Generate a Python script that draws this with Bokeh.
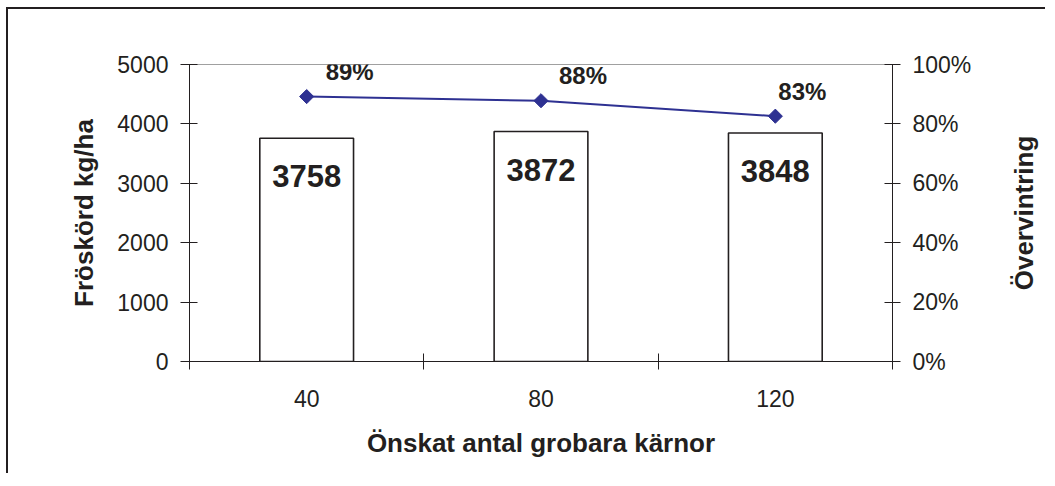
from bokeh.plotting import figure
from bokeh.layouts import row
from bokeh.models import (ColumnDataSource, Range1d, LinearAxis, FixedTicker,
                          NumeralTickFormatter, Title)
from bokeh.core.properties import value
from bokeh.embed import file_html
from bokeh.resources import INLINE

# ---- data ----
categories = ["40", "80", "120"]
yield_kg = [3758, 3872, 3848]
overwinter = [0.892, 0.878, 0.826]
overwinter_labels = ["89%", "88%", "83%"]

# label nudges (screen px), as placed in the original
pct_label_dx = [19, 18, 3]

FONT = "Liberation Sans"
TXT = "#231f20"
NAVY = "#2e3192"

xs = [i + 0.5 for i in range(len(categories))]
src = ColumnDataSource(dict(
    x=xs, y=yield_kg, ylab=[str(v) for v in yield_kg],
    p=overwinter, plab=overwinter_labels, dx=pct_label_dx,
))

p = figure(width=1000, height=466, output_backend="svg", toolbar_location=None,
           x_range=Range1d(0, len(categories)), y_range=Range1d(0, 5000),
           min_border_left=181, min_border_right=116, min_border_top=55,
           min_border_bottom=114)
p.styles = {"border-left": "2px solid #231f20", "border-top": "2px solid #231f20",
            "margin-left": "6px", "margin-top": "7px"}
p.extra_y_ranges = {"pct": Range1d(0, 1)}
p.xgrid.visible = False
p.ygrid.visible = False
p.outline_line_color = "#a0a0a0"
p.outline_line_width = 1
p.background_fill_color = "white"
p.border_fill_color = "white"

# bars
p.vbar(x="x", top="y", width=0.4, bottom=0, source=src, fill_color="white",
       line_color=TXT, line_width=1.6)
p.text(x="x", y="y", text="ylab", source=src, text_align="center",
       text_baseline="top", y_offset=27, text_font=value(FONT),
       text_font_style="bold", text_font_size="31px", text_color=TXT)

# line
p.line(x="x", y="p", source=src, y_range_name="pct", line_color=NAVY, line_width=2)
p.scatter(x="x", y="p", source=src, y_range_name="pct", marker="square", size=10,
          angle=0.7854, fill_color=NAVY, line_color=NAVY)
p.text(x="x", y="p", text="plab", source=src, y_range_name="pct",
       text_align="left", text_baseline="alphabetic", x_offset="dx", y_offset=-25,
       text_font=value(FONT), text_font_style="bold", text_font_size="24px",
       text_color=TXT)

# x axis
xa = p.xaxis[0]
xa.ticker = FixedTicker(ticks=xs, minor_ticks=list(range(len(categories) + 1)))
xa.major_label_overrides = {x: c for x, c in zip(xs, categories)}
xa.major_tick_line_color = None
xa.major_tick_out = 8
xa.major_tick_in = 0
xa.minor_tick_in = 8
xa.minor_tick_out = 8
xa.minor_tick_line_color = TXT
xa.axis_line_color = TXT
xa.major_label_standoff = 20
xa.major_label_text_font = FONT
xa.major_label_text_font_size = "23px"
xa.major_label_text_color = TXT
xa.axis_label = "Önskat antal grobara kärnor"
xa.axis_label_text_font = FONT
xa.axis_label_text_font_style = "bold"
xa.axis_label_text_font_size = "26px"
xa.axis_label_text_color = TXT
xa.axis_label_standoff = 18

# left y axis
ya = p.yaxis[0]
ya.ticker = FixedTicker(ticks=[0, 1000, 2000, 3000, 4000, 5000])
ya.minor_tick_line_color = None
ya.major_tick_in = 8
ya.major_tick_out = 9
ya.major_tick_line_color = TXT
ya.axis_line_color = TXT
ya.major_label_standoff = 12
ya.major_label_text_font = FONT
ya.major_label_text_font_size = "23px"
ya.major_label_text_color = TXT
ya.axis_label = "Fröskörd kg/ha"
ya.axis_label_text_font = FONT
ya.axis_label_text_font_style = "bold"
ya.axis_label_text_font_size = "26px"
ya.axis_label_text_color = TXT
ya.axis_label_standoff = 15

# right y axis
ra = LinearAxis(y_range_name="pct", ticker=FixedTicker(ticks=[0, 0.2, 0.4, 0.6, 0.8, 1.0]),
                formatter=NumeralTickFormatter(format="0%"))
ra.minor_tick_line_color = None
ra.major_tick_in = 8
ra.major_tick_out = 8
ra.major_tick_line_color = TXT
ra.axis_line_color = TXT
ra.major_label_standoff = 12
ra.major_label_text_font = FONT
ra.major_label_text_font_size = "23px"
ra.major_label_text_color = TXT
p.add_layout(ra, "right")

# right-hand title strip: a left-side Title reads bottom-to-top, centred on the frame
p2 = figure(width=39, height=466, output_backend="svg", toolbar_location=None,
            x_axis_type=None, y_axis_type=None, min_border_left=0,
            min_border_right=0, min_border_top=55, min_border_bottom=114)
p2.styles = {"border-top": "2px solid #231f20", "margin-top": "7px"}
p2.outline_line_color = None
p2.background_fill_color = "white"
p2.border_fill_color = "white"
p2.add_layout(Title(text="Övervintring", align="center", standoff=0,
                    text_font=FONT, text_font_style="bold", text_font_size="26px",
                    text_color=TXT), "left")

open("out.html", "w").write(file_html(row(p, p2), INLINE))
